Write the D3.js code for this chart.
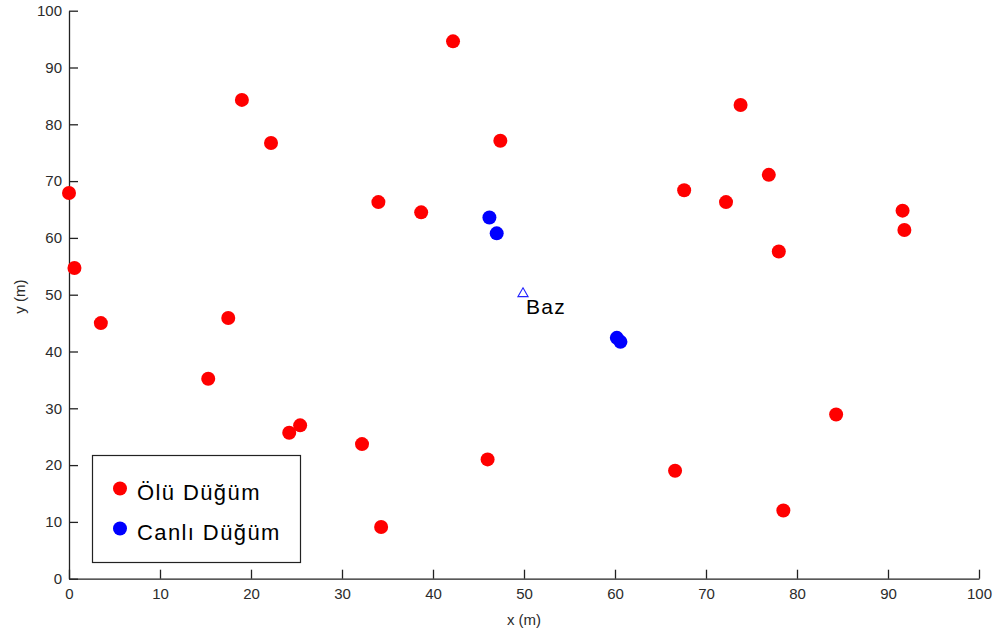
<!DOCTYPE html>
<html lang="en">
<head>
<meta charset="UTF-8">
<title>Düğüm dağılımı</title>
<script src="https://d3js.org/d3.v7.min.js"></script>
<style>
  body { margin: 0; background: #fff; }
  svg { display: block; font-family: 'Liberation Sans', Arial, sans-serif; }
  .axis path, .axis line { stroke: #222; stroke-width: 1.3px; }
  .axis text { fill: #2b2b2b; font-size: 15px; }
</style>
</head>
<body>
<svg id="chart" width="997" height="636"></svg>
<script>
// dead nodes (x, y in metres)
const deadX = [0.0, 0.6, 3.5, 19.0, 22.2, 17.5, 15.3, 24.2, 25.4, 32.2, 34.3, 34.0, 38.7, 42.2, 47.4, 46.0,
               67.6, 66.6, 72.2, 73.8, 76.9, 78.0, 78.5, 84.3, 91.6, 91.8];
const deadY = [67.9, 54.7, 45.0, 84.3, 76.7, 45.9, 35.2, 25.7, 27.0, 23.7, 9.1, 66.3, 64.5, 94.6, 77.1, 21.0,
               68.4, 19.0, 66.3, 83.4, 71.1, 57.6, 12.0, 28.9, 64.8, 61.4];
// alive nodes
const aliveX = [46.2, 47.0, 60.2, 60.6];
const aliveY = [63.6, 60.8, 42.4, 41.7];
// base station
const baseX = 50, baseY = 50;
const ticks = [0, 10, 20, 30, 40, 50, 60, 70, 80, 90, 100];
const legendLabels = ['Ölü Düğüm', 'Canlı Düğüm'];
const colors = ['#ff0000', '#0000ff'];

const svg = d3.select('#chart');
const margin = {top: 10.7, right: 18, bottom: 57.3, left: 69};
const W = 997, H = 636;

const x = d3.scaleLinear().domain([0, 100]).range([margin.left, W - margin.right]);
const y = d3.scaleLinear().domain([0, 100]).range([H - margin.bottom, margin.top]);

// axes, ticks pointing inward
const xAxis = svg.append('g').attr('class', 'axis')
    .attr('transform', `translate(0,${y(0)})`)
    .call(d3.axisBottom(x).tickValues(ticks).tickSizeInner(-9).tickSizeOuter(0));
xAxis.selectAll('text').attr('y', 20).attr('dy', 0);

const yAxis = svg.append('g').attr('class', 'axis')
    .attr('transform', `translate(${x(0)},0)`)
    .call(d3.axisLeft(y).tickValues(ticks).tickSizeInner(-9).tickSizeOuter(0));
yAxis.selectAll('text').attr('x', -7);

// axis labels
svg.append('text').attr('x', x(50)).attr('y', 625).attr('text-anchor', 'middle')
    .attr('font-size', 15).attr('fill', '#2b2b2b').text('x (m)');
svg.append('text').attr('transform', `translate(25,${y(50) + 2}) rotate(-90)`).attr('text-anchor', 'middle')
    .attr('font-size', 15).attr('fill', '#2b2b2b').text('y (m)');

// dead nodes
svg.append('g').selectAll('circle')
    .data(deadX.map((d, i) => [d, deadY[i]]))
    .join('circle')
    .attr('cx', d => x(d[0])).attr('cy', d => y(d[1]))
    .attr('r', 7).attr('fill', colors[0]);

// alive nodes
svg.append('g').selectAll('circle')
    .data(aliveX.map((d, i) => [d, aliveY[i]]))
    .join('circle')
    .attr('cx', d => x(d[0])).attr('cy', d => y(d[1]))
    .attr('r', 7).attr('fill', colors[1]);

// base station
svg.append('path')
    .attr('d', d3.symbol().type(d3.symbolTriangle).size(45)())
    .attr('transform', `translate(${x(baseX) - 1},${y(baseY) - 1})`)
    .attr('fill', 'none').attr('stroke', '#2323ff').attr('stroke-width', 1.1);
svg.append('text').attr('x', x(baseX) + 2).attr('y', y(baseY) + 19)
    .attr('font-size', 21).attr('letter-spacing', 1.3).attr('fill', '#000').text('Baz');

// legend
const lg = svg.append('g');
lg.append('rect').attr('x', 92.5).attr('y', 455.5).attr('width', 208).attr('height', 107)
    .attr('fill', '#fff').attr('stroke', '#222').attr('stroke-width', 1.2);
legendLabels.forEach((lab, i) => {
    const cy = 488.5 + i * 40;
    lg.append('circle').attr('cx', 120).attr('cy', cy).attr('r', 7).attr('fill', colors[i]);
    lg.append('text').attr('x', 137).attr('y', cy + 11).attr('font-size', 22)
        .attr('letter-spacing', 1.4).attr('fill', '#000').text(lab);
});
</script>
</body>
</html>
